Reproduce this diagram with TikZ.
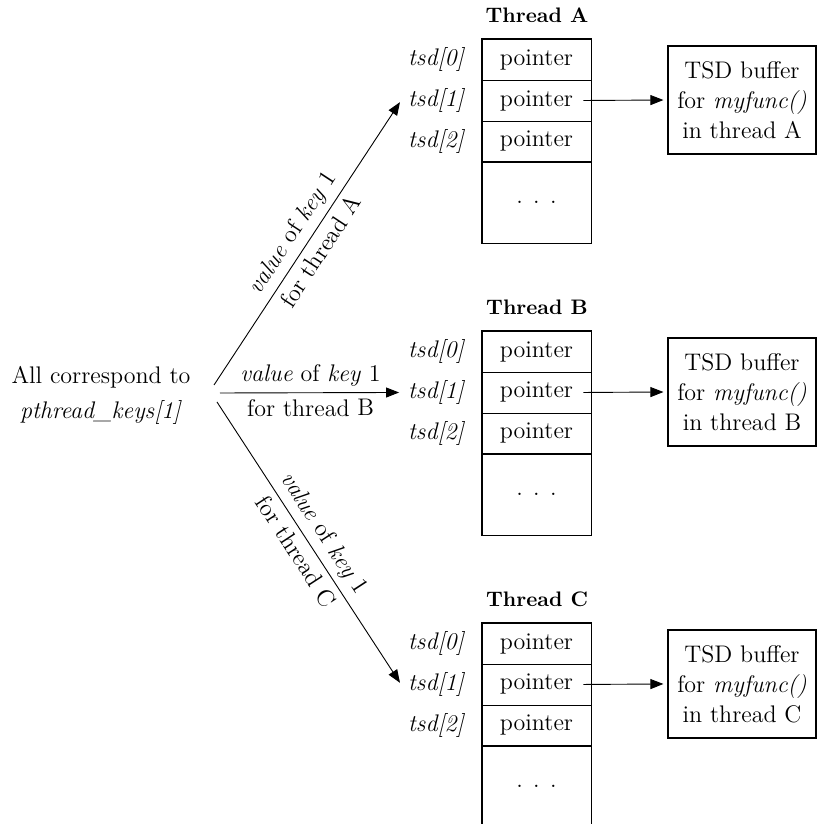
\documentclass[tikz,border=0pt]{standalone}
\usetikzlibrary{arrows.meta,positioning}

\begin{document}
\begin{tikzpicture}[x=1cm,y=1cm,>=Triangle]
  \tikzset{
    fontstd/.style={font=\fontsize{12}{15}\selectfont, text=black},
    cell/.style={
      fontstd,
      draw,
      line width=0.4pt,
      minimum width=1.916cm,
      minimum height=0.72cm,
      inner sep=0pt
    },
    morecell/.style={cell, minimum height=1.44cm},
    frame/.style={line width=0.75pt},
    tsdlabel/.style={font=\itshape\fontsize{12}{15}\selectfont, anchor=east},
    threadtitle/.style={font=\bfseries\fontsize{10.5}{12}\selectfont},
    buffer/.style={
      fontstd,
      draw,
      line width=0.65pt,
      minimum width=2.6cm,
      minimum height=1.9cm,
      align=center
    },
    link/.style={-{Triangle[length=6.5pt,width=5pt]}, line width=0.45pt},
    keylabel/.style={fontstd, sloped, midway, inner sep=3pt}
  }

  \useasboundingbox (0,0) rectangle (14.357,14.480);

  % Thread A
  \node[threadtitle] (titleA) at (9.437,14.217) {Thread A};
  \node[cell] (ptrA-0) at (9.428,13.434) {pointer};
  \node[cell] (ptrA-1) at (9.428,12.714) {pointer};
  \node[cell] (ptrA-2) at (9.428,11.994) {pointer};
  \node[morecell] (moreA) at (9.428,10.930) {. . .};
  \draw[frame] (ptrA-0.north west) rectangle (moreA.south east);
  \node[tsdlabel] (tsdA-0) at (8.277,13.434) {tsd[0]};
  \node[tsdlabel] (tsdA-1) at (8.277,12.714) {tsd[1]};
  \node[tsdlabel] (tsdA-2) at (8.277,11.994) {tsd[2]};
  \node[buffer] (bufA) at (13.04,12.723) {TSD buffer\\for \textit{myfunc()}\\in thread A};
  \draw[link, shorten >=2pt] ([xshift=-4pt]ptrA-1.east) -- (bufA.west);

  % Thread B
  \node[threadtitle] (titleB) at (9.437,9.086) {Thread B};
  \node[cell] (ptrB-0) at (9.428,8.303) {pointer};
  \node[cell] (ptrB-1) at (9.428,7.583) {pointer};
  \node[cell] (ptrB-2) at (9.428,6.863) {pointer};
  \node[morecell] (moreB) at (9.428,5.799) {. . .};
  \draw[frame] (ptrB-0.north west) rectangle (moreB.south east);
  \node[tsdlabel] (tsdB-0) at (8.277,8.303) {tsd[0]};
  \node[tsdlabel] (tsdB-1) at (8.277,7.583) {tsd[1]};
  \node[tsdlabel] (tsdB-2) at (8.277,6.863) {tsd[2]};
  \node[buffer] (bufB) at (13.04,7.592) {TSD buffer\\for \textit{myfunc()}\\in thread B};
  \draw[link, shorten >=2pt] ([xshift=-4pt]ptrB-1.east) -- (bufB.west);

  % Thread C
  \node[threadtitle] (titleC) at (9.437,3.955) {Thread C};
  \node[cell] (ptrC-0) at (9.428,3.172) {pointer};
  \node[cell] (ptrC-1) at (9.428,2.452) {pointer};
  \node[cell] (ptrC-2) at (9.428,1.732) {pointer};
  \node[morecell] (moreC) at (9.428,0.668) {. . .};
  \draw[frame] (ptrC-0.north west) rectangle (moreC.south east);
  \node[tsdlabel] (tsdC-0) at (8.277,3.172) {tsd[0]};
  \node[tsdlabel] (tsdC-1) at (8.277,2.452) {tsd[1]};
  \node[tsdlabel] (tsdC-2) at (8.277,1.732) {tsd[2]};
  \node[buffer] (bufC) at (13.04,2.461) {TSD buffer\\for \textit{myfunc()}\\in thread C};
  \draw[link, shorten >=2pt] ([xshift=-4pt]ptrC-1.east) -- (bufC.west);

  % key source and fan-out
  \node[fontstd, align=center] (src) at (1.775,7.530) {All correspond to\\[2.5pt]\textit{pthread\_keys[1]}};
  \coordinate (fanA) at (3.761,7.715);
  \coordinate (fanB) at (3.866,7.574);
  \coordinate (fanC) at (3.813,7.416);

  \draw[link, shorten >=1pt] (fanA) -- (tsdA-1.west)
    node[keylabel, above] {\textit{value} of \textit{key} 1}
    node[keylabel, below] {for thread A};
  \draw[link, shorten >=1pt] (fanB) -- (tsdB-1.west)
    node[keylabel, above] {\textit{value} of \textit{key} 1}
    node[keylabel, below] {for thread B};
  \draw[link, shorten >=1pt] (fanC) -- (tsdC-1.west)
    node[keylabel, above] {\textit{value} of \textit{key} 1}
    node[keylabel, below] {for thread C};
\end{tikzpicture}
\end{document}
